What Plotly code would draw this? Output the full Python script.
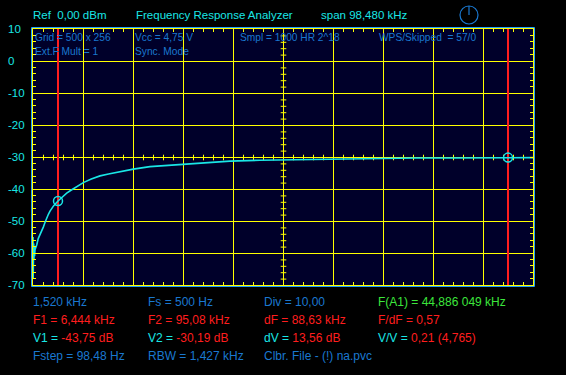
import plotly.graph_objects as go

# ---- data ----
f_start_khz = 1.52
span_khz = 98.48
f1_khz = 6.444
f2_khz = 95.08
v1_db = -43.75
v2_db = -30.19

freq_khz = [1.52, 1.55, 1.58, 1.62, 1.66, 1.70, 1.76, 1.83, 1.91, 2.05, 2.25, 2.55, 2.90,
            3.25, 3.55, 3.90, 4.22, 4.55, 4.87, 5.6, 6.444, 7.3, 8.16, 9.0, 9.79, 10.6,
            11.43, 13.0, 14.72, 16.4, 18.01, 19.6, 21.28, 24.56, 27.85, 31.12, 34.41,
            37.4, 40.32, 46.23, 50.8, 55.09, 62.0, 70.46, 77.0, 83.65, 90.0, 95.08, 100.0]
level_db = [-55, -68, -56, -64, -57, -62, -58, -61, -59, -58.5, -57.5, -55.5, -54.4,
            -53.0, -51.9, -50.4, -49.0, -47.9, -46.9, -45.2, -43.75, -42.4, -41.3, -40.4,
            -39.6, -38.7, -38.0, -36.9, -35.9, -35.3, -34.8, -34.3, -33.8, -33.0, -32.6,
            -32.2, -31.9, -31.6, -31.3, -31.0, -30.9, -30.7, -30.5, -30.4, -30.3, -30.3,
            -30.2, -30.19, -30.2]

y_ticks = [10, 0, -10, -20, -30, -40, -50, -60, -70]
y_min, y_max = -70, 10

# ---- styling ----
W, H = 566, 375
L, R, T, B = 33, 533, 29, 285
BG = "#00002a"
YEL = "#ffff00"
CYAN = "#19e6e6"
BLUE = "#1a78d0"
RED = "#ff1e1e"
GREEN = "#3ce63c"
BORDER = "#1e9fff"
FONT = "Liberation Sans"

f_end = f_start_khz + span_khz
hx = 0.5 * span_khz / (R - L)            # half a pixel in x data units
hy = 0.5 * (y_max - y_min) / (B - T)     # half a pixel in y data units
xdiv = span_khz / 10
ydiv = 10
x_major = [f_start_khz + k * xdiv for k in range(1, 10)]
x_minor = [f_start_khz + k * xdiv / 5 for k in range(1, 50)]
y_major = [y for y in y_ticks if y_min < y < y_max]
y_minor = [y_min + k * ydiv / 5 for k in range(1, 40)]
x_center = f_start_khz + span_khz / 2
y_center = (y_min + y_max) / 2


def px(x):
    return (x - L) / (R - L)


def py(y):
    return (B - y) / (B - T)


fig = go.Figure()

# crosshair ticks on centre lines
fig.add_trace(go.Scatter(x=[v + hx for v in x_minor], y=[y_center - hy] * len(x_minor),
                         mode="markers",
                         marker=dict(symbol="line-ns", size=4, line=dict(color=YEL, width=1)),
                         hoverinfo="skip", showlegend=False))
fig.add_trace(go.Scatter(x=[x_center + hx] * len(y_minor), y=[v - hy for v in y_minor],
                         mode="markers",
                         marker=dict(symbol="line-ew", size=4, line=dict(color=YEL, width=1)),
                         hoverinfo="skip", showlegend=False))

# marker lines
for fm in (f1_khz, f2_khz):
    fig.add_trace(go.Scatter(x=[fm, fm], y=[y_min, y_max], mode="lines",
                             line=dict(color=RED, width=2), hoverinfo="skip", showlegend=False))

# response curve
fig.add_trace(go.Scatter(x=freq_khz, y=level_db, mode="lines",
                         line=dict(color=CYAN, width=1.6), showlegend=False))

# marker circles
fig.add_trace(go.Scatter(x=[f1_khz, f2_khz], y=[v1_db, v2_db], mode="markers",
                         marker=dict(symbol="circle-open", size=9, color=CYAN,
                                     line=dict(color=CYAN, width=1.5)),
                         showlegend=False))

fig.update_xaxes(range=[f_start_khz, f_end], tickmode="array", tickvals=x_major,
                 showticklabels=False, showgrid=False,
                 zeroline=False, showline=True, linecolor=YEL, linewidth=1, mirror="all",
                 ticks="inside", ticklen=3, tickcolor=YEL,
                 minor=dict(tickmode="array", tickvals=x_minor, ticks="inside", ticklen=3,
                            tickcolor=YEL, showgrid=False))
fig.update_yaxes(range=[y_min, y_max], tickmode="array", tickvals=y_major,
                 showticklabels=False, showgrid=False,
                 zeroline=False, showline=True, linecolor=YEL, linewidth=1, mirror="all",
                 ticks="inside", ticklen=3, tickcolor=YEL,
                 minor=dict(tickmode="array", tickvals=y_minor, ticks="inside", ticklen=3,
                            tickcolor=YEL, showgrid=False))

shapes = []
for xv in x_major:
    shapes.append(dict(type="line", xref="x", yref="paper", x0=xv + hx, x1=xv + hx, y0=0, y1=1,
                       line=dict(color=YEL, width=1), layer="below"))
for yv in y_major:
    shapes.append(dict(type="line", xref="paper", yref="y", x0=0, x1=1, y0=yv - hy, y1=yv - hy,
                       line=dict(color=YEL, width=1), layer="below"))
shapes += [dict(type="rect", xref="paper", yref="paper",
                x0=-1.5 / 500, x1=1 + 1.5 / 500, y0=-1.5 / 256, y1=1 + 1.5 / 256,
                line=dict(color=BORDER, width=1), layer="above"),
           dict(type="circle", xref="paper", yref="paper",
                x0=px(460), x1=px(478), y0=py(24), y1=py(6),
                line=dict(color=BLUE, width=1.2)),
           dict(type="line", xref="paper", yref="paper",
                x0=px(469), x1=px(469), y0=py(15), y1=py(6),
                line=dict(color=BLUE, width=1.2))]

ann = []


def text(x, y, s, color, size):
    ann.append(dict(xref="paper", yref="paper", x=px(x), y=py(y), text=s, showarrow=False,
                    xanchor="left", yanchor="middle", align="left",
                    font=dict(family=FONT, size=size, color=color)))


# y labels
for yv in y_ticks:
    text(6, T + (y_max - yv) / (y_max - y_min) * (B - T), str(yv), CYAN, 11.5)

# header
HS = 11.5
text(31, 15, "Ref  0,00 dBm", CYAN, HS)
text(134, 15, "Frequency Response Analyzer", CYAN, HS)
text(319, 15, "span 98,480 kHz", CYAN, HS)

# inside plot info
IS = 10.2
text(33, 37, "Grid = 500 x 256", BLUE, IS)
text(33, 51, "Ext.F Mult = 1", BLUE, IS)
text(133, 37, "Vcc = 4,75 V", BLUE, IS)
text(133, 51, "Sync. Mode", BLUE, IS)
text(238, 37, "Smpl = 1000 HR 2^18", BLUE, IS)
text(377, 37, "WPS/Skipped  = 57/0", BLUE, IS)


def red(s):
    return "<span style='color:%s'>%s</span>" % (RED, s)


BS = 12
cols = [31, 146, 262, 376]
rows = [302, 320, 338, 356]
text(cols[0], rows[0], "1,520 kHz", BLUE, BS)
text(cols[1], rows[0], "Fs = 500 Hz", BLUE, BS)
text(cols[2], rows[0], "Div = 10,00", BLUE, BS)
text(cols[3], rows[0], "F(A1) = 44,886 049 kHz", GREEN, BS)
text(cols[0], rows[1], "F1 = 6,444 kHz", RED, BS)
text(cols[1], rows[1], "F2 = 95,08 kHz", RED, BS)
text(cols[2], rows[1], "dF = 88,63 kHz", RED, BS)
text(cols[3], rows[1], "F/dF = 0,57", RED, BS)
text(cols[0], rows[2], "V1 = " + red("-43,75 dB"), CYAN, BS)
text(cols[1], rows[2], "V2 = " + red("-30,19 dB"), CYAN, BS)
text(cols[2], rows[2], "dV = " + red("13,56 dB"), CYAN, BS)
text(cols[3], rows[2], "V/V = " + red("0,21 (4,765)"), CYAN, BS)
text(cols[0], rows[3], "Fstep = 98,48 Hz", BLUE, BS)
text(cols[1], rows[3], "RBW = 1,427 kHz", BLUE, BS)
text(cols[2], rows[3], "Clbr. File - (!) na.pvc", BLUE, BS)

fig.update_layout(width=W, height=H, margin=dict(l=L, r=W - R, t=T, b=H - B, pad=0),
                  paper_bgcolor="#000000", plot_bgcolor=BG, shapes=shapes, annotations=ann,
                  showlegend=False, template="none")

fig.write_html("out.html")
